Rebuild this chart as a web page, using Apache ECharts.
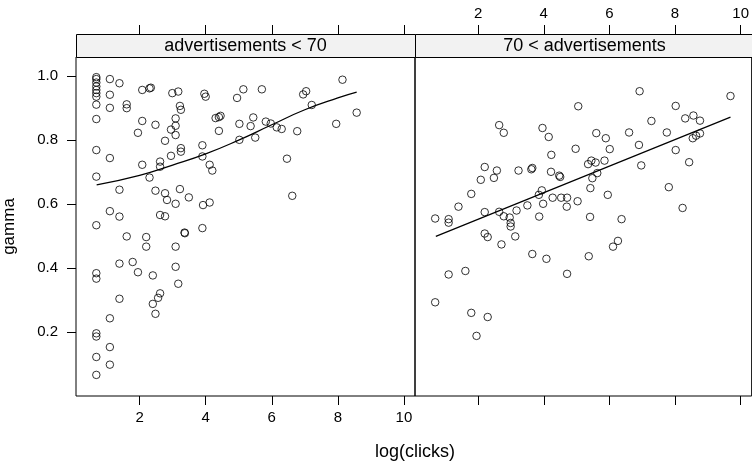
<!DOCTYPE html>
<html>
<head>
<meta charset="utf-8">
<script src="https://cdn.jsdelivr.net/npm/echarts@6/dist/echarts.min.js"></script>
<style>
  html, body { margin: 0; padding: 0; background: #fff; }
  #chart { width: 752px; height: 465px; }
</style>
</head>
<body>
<div id="chart"></div>
<script>
// Panel labels
const panelTitles = ['advertisements < 70', '70 < advertisements'];

// Shared tick positions / labels
const xTicks = [2, 4, 6, 8, 10];
const yTicks = [0.2, 0.4, 0.6, 0.8, 1.0];

// Panel 1: advertisements < 70
const lowAdLogClicks = [
  0.69, 0.69, 0.69, 0.69, 0.69, 0.69, 0.69, 0.69, 0.69, 0.69, 0.69, 0.69, 0.69, 0.69, 0.69, 0.69, 0.69, 0.69,
  1.10, 1.10, 1.10, 1.10, 1.10, 1.10, 1.10, 1.10,
  1.39, 1.39, 1.39, 1.39, 1.39,
  1.61, 1.61, 1.61,
  1.79, 1.95, 1.95,
  2.08, 2.08, 2.08,
  2.20, 2.20,
  2.30, 2.34, 2.30,
  2.40, 2.40,
  2.48, 2.48, 2.48,
  2.56,
  2.62, 2.62, 2.62, 2.62,
  2.77, 2.77, 2.83, 2.77,
  2.99, 2.95, 2.95, 3.09, 3.09,
  3.09, 3.09, 3.09, 3.09,
  3.17, 3.17,
  3.22, 3.25, 3.25, 3.25, 3.22,
  3.36, 3.37,
  3.49,
  3.90, 3.90, 3.92, 3.90,
  3.96, 4.00,
  4.12, 4.20, 4.12,
  4.30, 4.40, 4.45, 4.40,
  4.95, 5.02, 5.02,
  5.14, 5.36,
  5.44, 5.50, 5.70, 5.82, 5.97, 6.15, 6.30, 6.46, 6.62, 6.77,
  6.95, 7.04, 7.21, 7.95, 8.14, 8.57
];
const lowAdGamma = [
  0.997, 0.991, 0.980, 0.968, 0.957, 0.947, 0.936, 0.911, 0.866, 0.769, 0.686, 0.534, 0.384, 0.367, 0.196, 0.186, 0.122, 0.066,
  0.991, 0.942, 0.901, 0.744, 0.578, 0.243, 0.153, 0.098,
  0.978, 0.645, 0.561, 0.414, 0.304,
  0.912, 0.900, 0.499,
  0.419, 0.823, 0.387,
  0.957, 0.860, 0.723,
  0.497, 0.467,
  0.962, 0.964, 0.683,
  0.377, 0.288,
  0.848, 0.642, 0.257,
  0.307,
  0.733, 0.717, 0.566, 0.321,
  0.798, 0.634, 0.613, 0.562,
  0.947, 0.833, 0.751, 0.868, 0.845,
  0.816, 0.601, 0.467, 0.404,
  0.952, 0.351,
  0.907, 0.895, 0.775, 0.764, 0.647,
  0.511, 0.509,
  0.621,
  0.784, 0.749, 0.597, 0.525,
  0.945, 0.936,
  0.723, 0.705, 0.605,
  0.869, 0.872, 0.876, 0.829,
  0.932, 0.851, 0.801,
  0.959, 0.844,
  0.871, 0.808, 0.959, 0.858, 0.852, 0.840, 0.835, 0.742, 0.626, 0.828,
  0.943, 0.953, 0.910, 0.851, 0.989, 0.886
];
// Smoothed trend for panel 1
const lowAdFitX = [0.70, 2.0, 3.0, 4.0, 5.0, 6.0, 7.0, 8.0, 8.57];
const lowAdFitY = [0.660, 0.690, 0.722, 0.757, 0.800, 0.848, 0.895, 0.932, 0.950];

// Panel 2: 70 < advertisements
const highAdLogClicks = [
  0.69, 0.69, 1.10, 1.10, 1.10, 1.40, 1.61, 1.79, 1.79, 1.95,
  2.08, 2.20, 2.20, 2.20, 2.29, 2.29, 2.48, 2.57, 2.64, 2.64,
  2.71, 2.78, 2.78, 2.96, 2.99, 2.99, 3.13, 3.17, 3.23, 3.50,
  3.62, 3.65, 3.65, 3.85, 3.86, 3.94, 3.96, 3.98, 4.08, 4.15,
  4.22, 4.23, 4.27, 4.47, 4.50, 4.53, 4.70, 4.71, 4.71, 4.97,
  5.03, 5.05, 5.35, 5.37, 5.41, 5.42, 5.45, 5.48, 5.58, 5.60,
  5.63, 5.85, 5.89, 5.95, 6.01, 6.11, 6.26, 6.37, 6.60, 6.90,
  6.92, 6.97, 7.28, 7.75, 7.81, 8.02, 8.02, 8.23, 8.31, 8.43,
  8.54, 8.56, 8.64, 8.76, 8.76, 9.69
];
const highAdGamma = [
  0.555, 0.293, 0.553, 0.542, 0.380, 0.592, 0.391, 0.632, 0.260, 0.188,
  0.676, 0.716, 0.575, 0.508, 0.497, 0.247, 0.682, 0.705, 0.847, 0.576,
  0.474, 0.823, 0.562, 0.558, 0.541, 0.530, 0.499, 0.580, 0.705, 0.596,
  0.709, 0.713, 0.444, 0.629, 0.561, 0.643, 0.838, 0.601, 0.429, 0.810,
  0.701, 0.754, 0.620, 0.689, 0.685, 0.620, 0.592, 0.620, 0.382, 0.773,
  0.609, 0.906, 0.725, 0.437, 0.560, 0.650, 0.736, 0.681, 0.730, 0.822,
  0.697, 0.736, 0.806, 0.629, 0.772, 0.467, 0.485, 0.553, 0.824, 0.785,
  0.953, 0.721, 0.860, 0.824, 0.653, 0.907, 0.769, 0.588, 0.868, 0.731,
  0.806, 0.877, 0.814, 0.861, 0.821, 0.938
];
// Linear trend for panel 2
const highAdFitX = [0.71, 9.69];
const highAdFitY = [0.499, 0.872];

const zip = (xs, ys) => xs.map((x, i) => [x, ys[i]]);

const FONT = 'Liberation Sans, Arial, Helvetica, sans-serif';
const X_MIN = 0.075, X_MAX = 10.335;
const Y_MIN = 0.0, Y_MAX = 1.06;

const panelLeft = [76, 415];
const panelW = 339, panelTop = 57, panelH = 339;
const stripH = 23;

function xAxisFor(grid, position, showLabels) {
  return {
    type: 'value', gridIndex: grid, position: position,
    offset: position === 'top' ? stripH : 0,
    min: X_MIN, max: X_MAX,
    axisLine: { show: false },
    splitLine: { show: false },
    axisTick: { show: true, length: 9, customValues: xTicks,
                lineStyle: { color: '#000', width: 1 } },
    axisLabel: { show: showLabels, customValues: xTicks, margin: position === 'top' ? 13 : 14,
                 color: '#000', fontSize: 15, fontFamily: FONT }
  };
}

const pointStyle = { color: 'rgba(0,0,0,0)', borderColor: '#000', borderWidth: 1 };

const option = {
  animation: false,
  backgroundColor: '#fff',
  grid: panelLeft.map(l => ({
    left: l, top: panelTop, width: panelW, height: panelH,
    show: true, borderColor: '#000', borderWidth: 1, backgroundColor: 'transparent'
  })),
  xAxis: [
    xAxisFor(0, 'bottom', true),
    xAxisFor(0, 'top', false),
    xAxisFor(1, 'bottom', false),
    xAxisFor(1, 'top', true)
  ],
  yAxis: [
    {
      type: 'value', gridIndex: 0, min: Y_MIN, max: Y_MAX,
      name: 'gamma', nameLocation: 'middle', nameGap: 58, nameRotate: 90,
      nameTextStyle: { color: '#000', fontSize: 17, fontFamily: FONT },
      axisLine: { show: false }, splitLine: { show: false },
      axisTick: { show: true, length: 9, customValues: yTicks,
                  lineStyle: { color: '#000', width: 1 } },
      axisLabel: { customValues: yTicks, margin: 18, color: '#000', fontSize: 15, fontFamily: FONT,
                   formatter: v => v.toFixed(1) }
    },
    {
      type: 'value', gridIndex: 1, min: Y_MIN, max: Y_MAX,
      axisLine: { show: false }, splitLine: { show: false },
      axisTick: { show: false }, axisLabel: { show: false }
    }
  ],
  series: [
    {
      type: 'scatter', xAxisIndex: 0, yAxisIndex: 0,
      data: zip(lowAdLogClicks, lowAdGamma),
      symbol: 'circle', symbolSize: 7.5, itemStyle: pointStyle
    },
    {
      type: 'line', xAxisIndex: 0, yAxisIndex: 0,
      data: zip(lowAdFitX, lowAdFitY), smooth: 0.5, showSymbol: false,
      lineStyle: { color: '#000', width: 1.2 }
    },
    {
      type: 'scatter', xAxisIndex: 2, yAxisIndex: 1,
      data: zip(highAdLogClicks, highAdGamma),
      symbol: 'circle', symbolSize: 7.5, itemStyle: pointStyle
    },
    {
      type: 'line', xAxisIndex: 2, yAxisIndex: 1,
      data: zip(highAdFitX, highAdFitY), showSymbol: false,
      lineStyle: { color: '#000', width: 1.2 }
    }
  ],
  graphic: [
    ...panelLeft.map((l, i) => ({
      type: 'group',
      children: [
        { type: 'rect', shape: { x: l + 0.5, y: panelTop - stripH + 0.5, width: panelW, height: stripH },
          style: { fill: '#f2f2f2', stroke: '#000', lineWidth: 1 } },
        { type: 'text', x: l + panelW / 2, y: panelTop - stripH / 2 + 1,
          style: { text: panelTitles[i], fill: '#000', font: '18px ' + FONT,
                   align: 'center', verticalAlign: 'middle' } }
      ]
    })),
    { type: 'text', x: 415, y: 452,
      style: { text: 'log(clicks)', fill: '#000', font: '18px ' + FONT,
               align: 'center', verticalAlign: 'middle' } }
  ]
};

const chart = echarts.init(document.getElementById('chart'), null, { renderer: 'canvas' });
chart.setOption(option);
</script>
</body>
</html>
